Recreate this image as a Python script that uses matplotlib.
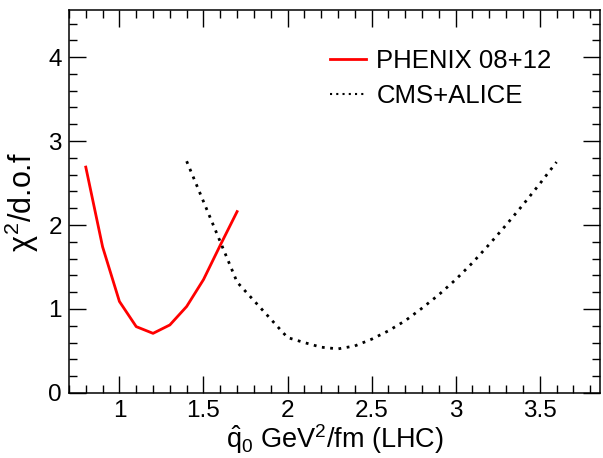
"""
chi2/d.o.f vs qhat_0 : PHENIX 08+12 vs CMS+ALICE (ROOT-style plot)
"""
import matplotlib
matplotlib.use('Agg')
import matplotlib.pyplot as plt
from matplotlib.ticker import MultipleLocator

plt.rcParams['font.family'] = ['Liberation Sans', 'DejaVu Sans']
plt.rcParams['mathtext.fontset'] = 'custom'
plt.rcParams['mathtext.rm'] = 'Liberation Sans'
plt.rcParams['mathtext.it'] = 'Liberation Sans'
plt.rcParams['mathtext.bf'] = 'Liberation Sans:bold'

# PHENIX 08+12
phenix_q = [0.8, 0.9, 1.0, 1.1, 1.2, 1.3, 1.4, 1.5, 1.6, 1.7]
phenix_chi2 = [2.69, 1.74, 1.09, 0.79, 0.71, 0.81, 1.03, 1.35, 1.76, 2.16]

# CMS+ALICE
lhc_q = [1.4, 1.7, 2.0, 2.1, 2.2, 2.3, 2.4, 2.5, 2.6, 2.7, 2.8, 2.9,
         3.0, 3.1, 3.2, 3.3, 3.4, 3.5, 3.6]
lhc_chi2 = [2.76, 1.32, 0.66, 0.60, 0.545, 0.525, 0.56, 0.64, 0.74, 0.86,
            1.01, 1.17, 1.35, 1.55, 1.77, 2.0, 2.24, 2.49, 2.75]

fig = plt.figure(figsize=(6.03, 4.58), dpi=100)
ax = fig.add_axes([0.1144, 0.142, 0.881, 0.836])

ax.plot(phenix_q, phenix_chi2, color='#ff0000', linewidth=2.0,
        label='PHENIX 08+12')
ax.plot(lhc_q, lhc_chi2, color='black', linewidth=2.0,
        linestyle=(0, (1, 2)), label='CMS+ALICE')

ax.set_xlim(0.7, 3.86)
ax.set_ylim(0, 4.56)

ax.xaxis.set_minor_locator(MultipleLocator(0.1))
ax.yaxis.set_minor_locator(MultipleLocator(0.2))
ax.set_xticks([1, 1.5, 2, 2.5, 3, 3.5])
ax.set_xticklabels(['1', '1.5', '2', '2.5', '3', '3.5'])
ax.set_yticks([0, 1, 2, 3, 4])
ax.set_yticklabels(['0', '1', '2', '3', '4'])

ax.tick_params(which='both', direction='in', top=True, right=True,
               labelsize=17.5, width=1.0)
ax.tick_params(which='major', length=12, pad=5)
ax.tick_params(which='minor', length=6)
for sp in ax.spines.values():
    sp.set_linewidth(1.1)

ax.set_xlabel(r'$\hat{q}_0$ GeV$^2$/fm (LHC)', fontsize=19.5, labelpad=0)
ax.set_ylabel(r'$\chi^2$/d.o.f', fontsize=22, labelpad=5)

leg = ax.legend(loc='upper left', bbox_to_anchor=(0.4915, 0.899),
                frameon=False, fontsize=18.5, handlelength=1.4,
                handletextpad=0.4, labelspacing=0.45, borderpad=0,
                borderaxespad=0)
leg.get_lines()[1].set_linewidth(1.5)

fig.savefig('out.png', dpi=100)
print("saved: out.png")
